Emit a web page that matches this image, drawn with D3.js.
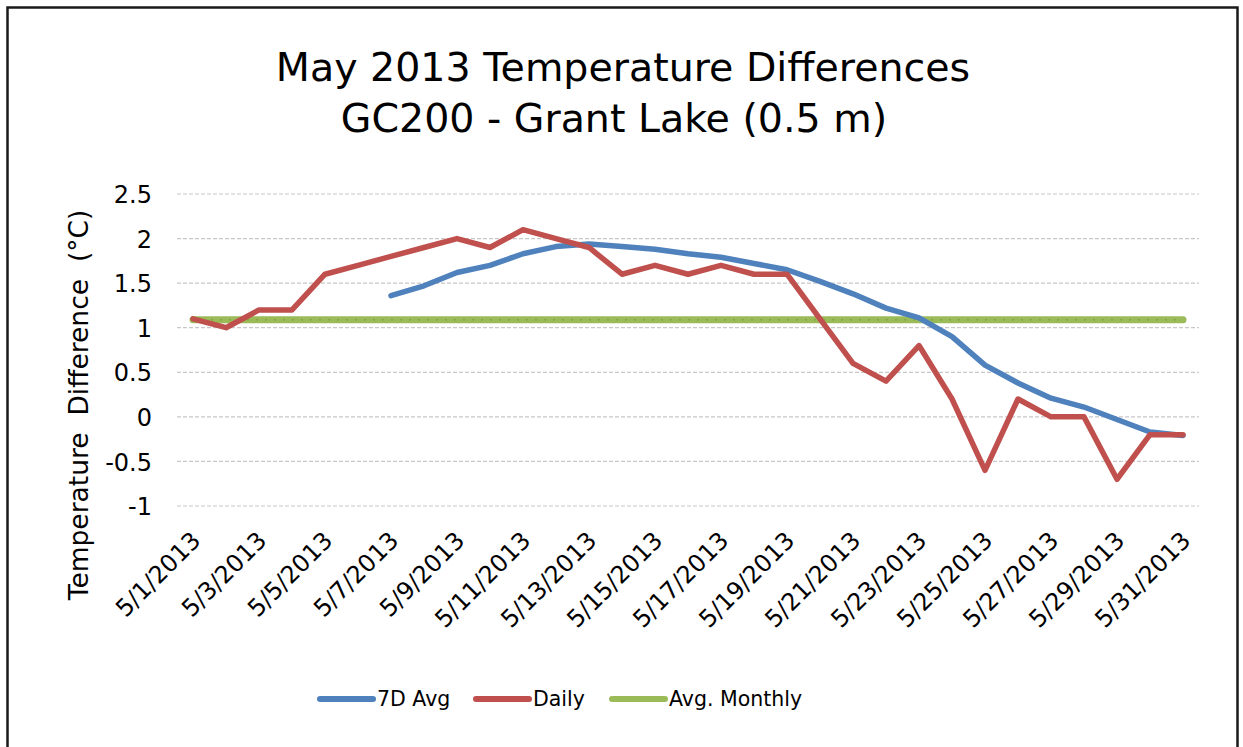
<!DOCTYPE html>
<html>
<head>
<meta charset="utf-8">
<script src="https://cdn.jsdelivr.net/npm/d3@7"></script>
<style>
  body { margin: 0; background: #fff; }
  text { font-family: "DejaVu Sans", sans-serif; fill: #000; }
</style>
</head>
<body>
<div id="chart"></div>
<script>
var dates = ["5/1/2013", "5/2/2013", "5/3/2013", "5/4/2013", "5/5/2013", "5/6/2013",
    "5/7/2013", "5/8/2013", "5/9/2013", "5/10/2013", "5/11/2013", "5/12/2013",
    "5/13/2013", "5/14/2013", "5/15/2013", "5/16/2013", "5/17/2013", "5/18/2013",
    "5/19/2013", "5/20/2013", "5/21/2013", "5/22/2013", "5/23/2013", "5/24/2013",
    "5/25/2013", "5/26/2013", "5/27/2013", "5/28/2013", "5/29/2013", "5/30/2013",
    "5/31/2013"];

var daily = [1.1, 1.0, 1.2, 1.2, 1.6, 1.7, 1.8, 1.9, 2.0, 1.9, 2.1, 2.0, 1.9, 1.6, 1.7, 1.6,
    1.7, 1.6, 1.6, 1.1, 0.6, 0.4, 0.8, 0.2, -0.6, 0.2, 0.0, 0.0, -0.7, -0.2, -0.2];

// 7 day average only starts on 5/7
var avg7 = [null, null, null, null, null, null, 1.36, 1.47, 1.62, 1.7, 1.83, 1.91, 1.94,
    1.91, 1.88, 1.83, 1.79, 1.72, 1.65, 1.52, 1.38, 1.22, 1.11, 0.9, 0.58, 0.38, 0.21,
    0.11, -0.03, -0.17, -0.21];

var avgMonthly = 1.09;

var yTicks = [-1, -0.5, 0, 0.5, 1, 1.5, 2, 2.5];
var xTickLabels = dates.filter((d, i) => i % 2 === 0);

var svgWidth = 1243;
var svgHeight = 747;

var svg = d3.select("#chart")
    .append("svg")
    .attr("width", svgWidth)
    .attr("height", svgHeight);

// outer frame (bottom edge falls just off the picture)
svg.append("rect")
    .attr("x", 7.5)
    .attr("y", 7.5)
    .attr("width", 1230)
    .attr("height", 745)
    .attr("fill", "#fff")
    .attr("stroke", "#1a1a1a")
    .attr("stroke-width", 2.5);

var plotLeft = 177, plotRight = 1199;

var xScale = d3.scalePoint()
    .domain(dates)
    .range([193, 1183]);

var yScale = d3.scaleLinear()
    .domain([-1, 2.5])
    .range([506, 194]);

// gridlines
svg.append("g")
    .selectAll("line")
    .data(yTicks)
    .enter()
    .append("line")
    .attr("x1", plotLeft)
    .attr("x2", plotRight)
    .attr("y1", d => yScale(d))
    .attr("y2", d => yScale(d))
    .attr("stroke", "#c8c8c8")
    .attr("stroke-width", 1.2)
    .attr("stroke-dasharray", "4,2");

// y axis labels
var leftAxis = d3.axisLeft(yScale)
    .tickValues(yTicks)
    .tickFormat(d => String(d))
    .tickSize(0)
    .tickPadding(0);

var yAxisG = svg.append("g")
    .attr("transform", "translate(152,0)")
    .call(leftAxis);
yAxisG.select(".domain").remove();
yAxisG.selectAll("text")
    .attr("font-family", "DejaVu Sans")
    .attr("font-size", 24)
    .attr("fill", "#000")
    .attr("dy", "0.36em");

// x axis labels, rotated
svg.append("g")
    .selectAll("text")
    .data(xTickLabels)
    .enter()
    .append("text")
    .attr("transform", d => `translate(${xScale(d) + 9}, 542) rotate(-45)`)
    .attr("text-anchor", "end")
    .attr("font-size", 24)
    .text(d => d);

// y axis title
svg.append("text")
    .attr("transform", "translate(88, 405) rotate(-90)")
    .attr("text-anchor", "middle")
    .attr("font-size", 26.5)
    .style("white-space", "pre")
    .text("Temperature  Difference  (°C)");

// chart title
svg.append("text")
    .attr("x", 623)
    .attr("y", 81)
    .attr("text-anchor", "middle")
    .attr("font-size", 39.5)
    .text("May 2013 Temperature Differences");

svg.append("text")
    .attr("x", 614)
    .attr("y", 132)
    .attr("text-anchor", "middle")
    .attr("font-size", 39.5)
    .text("GC200 - Grant Lake (0.5 m)");

// lines
var avgLine = d3.line()
    .defined(d => d[1] !== null)
    .x(d => xScale(d[0]))
    .y(d => yScale(d[1]));

var monthlyData = [[dates[0], avgMonthly], [dates[dates.length - 1], avgMonthly]];

svg.append("path")
    .datum(monthlyData)
    .attr("d", avgLine)
    .attr("fill", "none")
    .attr("stroke", "#9bbb59")
    .attr("stroke-width", 7)
    .attr("stroke-linecap", "round");

svg.append("path")
    .datum(monthlyData)
    .attr("d", avgLine)
    .attr("fill", "none")
    .attr("stroke", "#7a9a3c")
    .attr("stroke-width", 1.5)
    .attr("stroke-dasharray", "2,7")
    .attr("opacity", 0.6);

svg.append("path")
    .datum(dates.map((d, i) => [d, avg7[i]]))
    .attr("d", avgLine)
    .attr("fill", "none")
    .attr("stroke", "#4f81bd")
    .attr("stroke-width", 5.5)
    .attr("stroke-linejoin", "round")
    .attr("stroke-linecap", "round");

svg.append("path")
    .datum(dates.map((d, i) => [d, daily[i]]))
    .attr("d", avgLine)
    .attr("fill", "none")
    .attr("stroke", "#c0504d")
    .attr("stroke-width", 5.5)
    .attr("stroke-linejoin", "round")
    .attr("stroke-linecap", "round");

// legend
var legendItems = [
    { name: "7D Avg", color: "#4f81bd", x: 320 },
    { name: "Daily", color: "#c0504d", x: 476 },
    { name: "Avg. Monthly", color: "#9bbb59", x: 612 }
];

var legend = svg.append("g");
legendItems.forEach(function (item) {
    legend.append("line")
        .attr("x1", item.x)
        .attr("x2", item.x + 53)
        .attr("y1", 699)
        .attr("y2", 699)
        .attr("stroke", item.color)
        .attr("stroke-width", 6)
        .attr("stroke-linecap", "round");
    legend.append("text")
        .attr("x", item.x + 57)
        .attr("y", 706)
        .attr("font-size", 20.5)
        .text(item.name);
});
</script>
</body>
</html>
